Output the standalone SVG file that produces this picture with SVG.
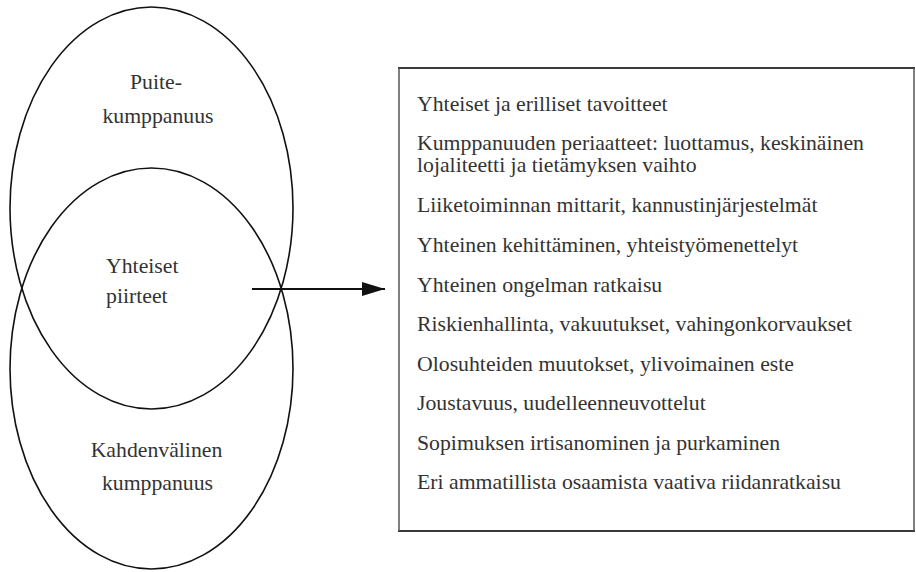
<svg xmlns="http://www.w3.org/2000/svg" width="916" height="572" viewBox="0 0 916 572">
<style>
.ell{fill:none;stroke:#111;stroke-width:1.6}
.t{font-family:'Liberation Serif','Times New Roman',serif;font-size:21.75px;fill:#333}
.c{text-anchor:middle}
.hb{stroke:#3a3a3a;stroke-width:2;fill:none}
.vb{stroke:#555;stroke-width:1.5;fill:none}
.conn{stroke:#111;stroke-width:2;fill:none}
</style>
<defs>
<marker id="ah" viewBox="0 0 23 14" refX="23" refY="7" markerWidth="23" markerHeight="14" markerUnits="userSpaceOnUse" orient="auto">
<path d="M0,0 L23,7 L0,14 Z" fill="#111"/>
</marker>
</defs>
<rect width="916" height="572" fill="#fff"/>
<g id="upper">
<ellipse class="ell" cx="151.5" cy="208" rx="141.5" ry="201"/>
<text class="t c" x="156" y="89">Puite-</text>
<text class="t c" x="158" y="123">kumppanuus</text>
</g>
<g id="lower">
<ellipse class="ell" cx="151.5" cy="368.5" rx="141.5" ry="200.5"/>
<text class="t c" x="156.5" y="457">Kahdenvälinen</text>
<text class="t c" x="157.5" y="490">kumppanuus</text>
</g>
<g id="common">
<text class="t" x="106" y="273">Yhteiset</text>
<text class="t" x="106" y="303">piirteet</text>
</g>
<g id="connectors">
<line class="conn" x1="252" y1="289" x2="385" y2="289" marker-end="url(#ah)"/>
</g>
<g id="list">
<line class="hb" x1="398" y1="68" x2="915" y2="68"/>
<line class="hb" x1="398" y1="531" x2="915" y2="531"/>
<line class="vb" x1="399" y1="68" x2="399" y2="531"/>
<line class="vb" x1="914" y1="68" x2="914" y2="531"/>
<text class="t" x="417" y="111">Yhteiset ja erilliset tavoitteet</text>
<text class="t" x="417" y="150">Kumppanuuden periaatteet: luottamus, keskinäinen</text>
<text class="t" x="417" y="172">lojaliteetti ja tietämyksen vaihto</text>
<text class="t" x="417" y="212">Liiketoiminnan mittarit, kannustinjärjestelmät</text>
<text class="t" x="417" y="252">Yhteinen kehittäminen, yhteistyömenettelyt</text>
<text class="t" x="417" y="292">Yhteinen ongelman ratkaisu</text>
<text class="t" x="417" y="331">Riskienhallinta, vakuutukset, vahingonkorvaukset</text>
<text class="t" x="417" y="371">Olosuhteiden muutokset, ylivoimainen este</text>
<text class="t" x="417" y="410">Joustavuus, uudelleenneuvottelut</text>
<text class="t" x="417" y="450">Sopimuksen irtisanominen ja purkaminen</text>
<text class="t" x="417" y="489">Eri ammatillista osaamista vaativa riidanratkaisu</text>
</g>
</svg>
